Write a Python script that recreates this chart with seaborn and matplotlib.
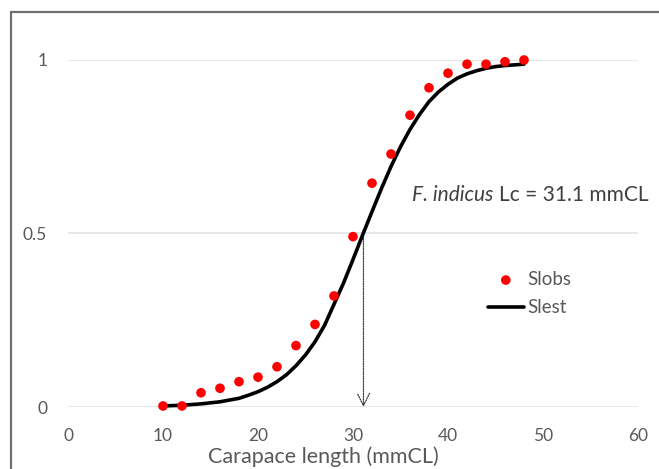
import matplotlib
matplotlib.use("Agg")
import matplotlib.pyplot as plt
from matplotlib.patches import Rectangle
import seaborn as sns
import pandas as pd

# Observed selection ogive (proportion retained by carapace length)
length_obs = [10, 12, 14, 16, 18, 20, 22, 24, 26, 28, 30, 32, 34, 36, 38, 40, 42, 44, 46, 48]
sl_obs = [0.003, 0.003, 0.041, 0.054, 0.073, 0.086, 0.116, 0.177, 0.238, 0.320, 0.491,
          0.645, 0.729, 0.841, 0.920, 0.962, 0.988, 0.988, 0.995, 1.000]

# Estimated (fitted) selection curve
length_est = list(range(10, 49))
sl_est = [0.003, 0.004, 0.005, 0.007, 0.009, 0.012, 0.015, 0.020, 0.025, 0.034,
          0.044, 0.057, 0.073, 0.093, 0.119, 0.150, 0.188, 0.235, 0.296, 0.357,
          0.425, 0.495, 0.563, 0.630, 0.693, 0.750, 0.800, 0.843, 0.880, 0.908,
          0.930, 0.948, 0.960, 0.969, 0.976, 0.981, 0.984, 0.986, 0.988]

lc50 = 31.1
x_ticks = [0, 10, 20, 30, 40, 50, 60]
y_ticks = [0, 0.5, 1]
y_tick_labels = ["0", "0.5", "1"]

sns.set_theme(style="white")
plt.rcParams["font.family"] = ["Lato", "DejaVu Sans"]

text_col = "#595959"
W, H = 659, 469
fig = plt.figure(figsize=(W / 100, H / 100), dpi=100)
ax = fig.add_axes([68 / W, 1 - 407 / H, 570 / W, 347 / H])

# outer chart frame (continues past the right and bottom edges)
fig.patches.append(Rectangle((11 / W, -0.05), 1.2, 1 - 12 / H + 0.05,
                             transform=fig.transFigure, fill=False,
                             edgecolor="#6f6f6f", linewidth=1.6))

obs = pd.DataFrame({"length": length_obs, "sl": sl_obs})
est = pd.DataFrame({"length": length_est, "sl": sl_est})

sns.lineplot(data=est, x="length", y="sl", ax=ax, color="black", linewidth=2.6,
             label="Slest", zorder=3, clip_on=False)
sns.scatterplot(data=obs, x="length", y="sl", ax=ax, color="#ff0000", s=48,
                edgecolor="none", label="Slobs", zorder=4, clip_on=False)

ax.set_xlim(0, 60)
ax.set_ylim(0, 1)
ax.set_xticks(x_ticks)
ax.set_yticks(y_ticks)
ax.set_yticklabels(y_tick_labels)
ax.tick_params(axis="both", length=0, labelsize=12.5, colors=text_col)
ax.tick_params(axis="x", pad=15)
ax.tick_params(axis="y", pad=15)
for s in ax.spines.values():
    s.set_visible(False)
for yv in y_ticks:
    ax.axhline(yv, color="#e3e3e3", linewidth=1.2, zorder=1)

ax.set_xlabel("Carapace length (mmCL)", fontsize=15.5, color=text_col)
ax.xaxis.label.set_va("center")
ax.xaxis.set_label_coords((323 - 68) / 570, (407 - 457) / 347)
ax.set_ylabel("")

# dotted arrow dropping from the 50% point to the length axis
ax.annotate("", xy=(lc50, 0), xytext=(lc50, 0.5),
            arrowprops=dict(arrowstyle="->", color="#404040", linestyle=(0, (1, 1)),
                            linewidth=0.9, shrinkA=0, shrinkB=0, mutation_scale=22),
            zorder=2)

species = ax.text(412 / W, 1 - 195 / H, "F. indicus", transform=fig.transFigure,
                  fontsize=15, fontstyle="italic", color="#404040",
                  va="center", ha="left")
ax.annotate("Lc = 31.1 mmCL", xy=(1, 0.5), xycoords=species,
            xytext=(4, 0), textcoords="offset points",
            fontsize=15, color="#404040", va="center", ha="left")

handles, labels = ax.get_legend_handles_labels()
order = [labels.index("Slobs"), labels.index("Slest")]
ax.legend([handles[i] for i in order], [labels[i] for i in order],
          loc="upper left", bbox_to_anchor=(488 / W, 1 - 271 / H),
          bbox_transform=fig.transFigure, frameon=False, fontsize=13.5,
          handlelength=1.9, handletextpad=0.2, labelspacing=0.6,
          labelcolor=text_col, borderaxespad=0, borderpad=0)

fig.savefig("out.png", dpi=100)
